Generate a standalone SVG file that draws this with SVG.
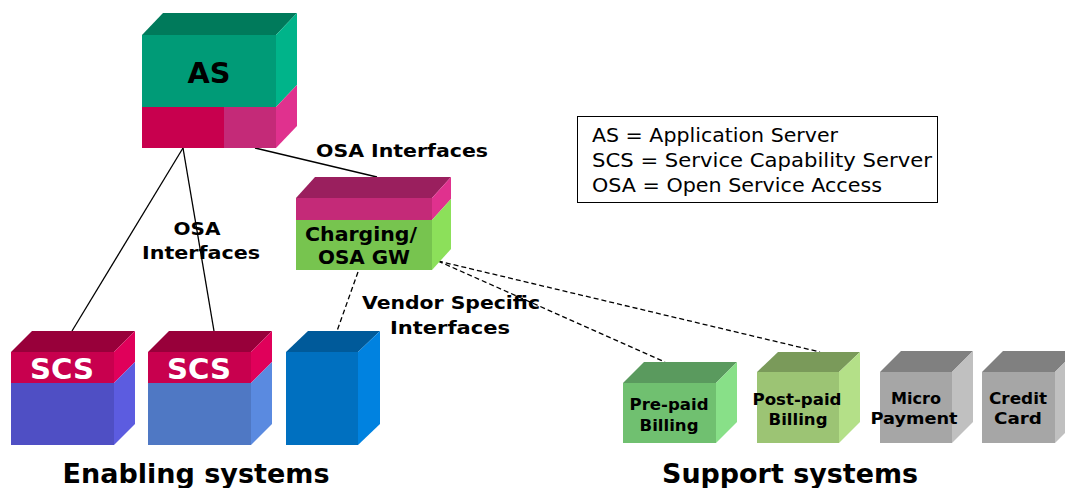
<svg xmlns="http://www.w3.org/2000/svg" width="1065" height="488" viewBox="0 0 1065 488">
  <style>
    .lbl { font-family: "DejaVu Sans", Verdana, sans-serif; font-weight: bold; fill: #000; text-anchor: middle; }
    .box-txt { font-family: "DejaVu Sans", Verdana, sans-serif; font-weight: bold; text-anchor: middle; }
    .legend { font-family: "DejaVu Sans", Verdana, sans-serif; font-size: 19px; fill: #000; }
    .solid { stroke: #000; stroke-width: 1.3; fill: none; }
    .dash { stroke: #000; stroke-width: 1.3; fill: none; stroke-dasharray: 5 3; }
  </style>

  <rect width="1065" height="488" fill="#fff"/>

  <!-- connectors -->
  <g id="connectors">
    <line class="solid" x1="183" y1="148" x2="72" y2="331"/>
    <line class="solid" x1="183" y1="148" x2="214" y2="331"/>
    <line class="solid" x1="255" y1="148" x2="377" y2="177"/>
    <line class="dash" x1="358" y1="272" x2="337" y2="331"/>
    <line class="dash" x1="438" y1="261" x2="665" y2="362"/>
    <line class="dash" x1="438" y1="261" x2="820" y2="352"/>
  </g>

  <!-- Application Server -->
  <g id="as">
    <polygon points="142,35 163,13 297,13 276,35" fill="#007A5B"/>
    <rect x="142" y="35" width="134" height="72" fill="#009B77"/>
    <polygon points="276,35 297,13 297,85 276,107" fill="#00B48A"/>
    <rect x="142" y="107" width="82" height="41" fill="#C8004E"/>
    <rect x="224" y="107" width="52" height="41" fill="#C42A78"/>
    <polygon points="276,107 297,85 297,126 276,148" fill="#E0318E"/>
    <text class="box-txt" x="209" y="83" font-size="29" fill="#000" textLength="43" lengthAdjust="spacingAndGlyphs">AS</text>
  </g>

  <!-- Charging / OSA gateway -->
  <g id="charging">
    <polygon points="296,198 315,177 451,177 432,198" fill="#9A1F5E"/>
    <rect x="296" y="198" width="136" height="22" fill="#C42A78"/>
    <polygon points="432,198 451,177 451,199 432,220" fill="#E0318E"/>
    <rect x="296" y="220" width="136" height="50" fill="#77C44F"/>
    <polygon points="432,220 451,199 451,249 432,270" fill="#8CE05A"/>
    <text class="box-txt" x="361" y="241" font-size="19" fill="#000" textLength="112" lengthAdjust="spacingAndGlyphs">Charging/</text>
    <text class="box-txt" x="364" y="264" font-size="19" fill="#000" textLength="92" lengthAdjust="spacingAndGlyphs">OSA GW</text>
  </g>

  <!-- SCS 1 -->
  <g id="scs1">
    <polygon points="11,352 32,331 135,331 114,352" fill="#98003A"/>
    <rect x="11" y="352" width="103" height="31" fill="#C8004E"/>
    <polygon points="114,352 135,331 135,362 114,383" fill="#E0005A"/>
    <rect x="11" y="383" width="103" height="62" fill="#4F4FC4"/>
    <polygon points="114,383 135,362 135,424 114,445" fill="#5C5CE0"/>
    <text class="box-txt" x="62" y="379" font-size="29" fill="#fff" textLength="64" lengthAdjust="spacingAndGlyphs">SCS</text>
  </g>

  <!-- SCS 2 -->
  <g id="scs2">
    <polygon points="148,352 169,331 272,331 251,352" fill="#98003A"/>
    <rect x="148" y="352" width="103" height="31" fill="#C8004E"/>
    <polygon points="251,352 272,331 272,362 251,383" fill="#E0005A"/>
    <rect x="148" y="383" width="103" height="62" fill="#4F78C4"/>
    <polygon points="251,383 272,362 272,424 251,445" fill="#5A8AE0"/>
    <text class="box-txt" x="199" y="379" font-size="29" fill="#fff" textLength="64" lengthAdjust="spacingAndGlyphs">SCS</text>
  </g>

  <!-- vendor specific system -->
  <g id="vendor">
    <polygon points="286,352 308,331 380,331 358,352" fill="#005A9A"/>
    <rect x="286" y="352" width="72" height="93" fill="#0070C0"/>
    <polygon points="358,352 380,331 380,424 358,445" fill="#0082E0"/>
  </g>

  <!-- Pre-paid billing -->
  <g id="prepaid">
    <polygon points="623,383 644,362 737,362 716,383" fill="#5A9A5E"/>
    <rect x="623" y="383" width="93" height="60" fill="#70C070"/>
    <polygon points="716,383 737,362 737,422 716,443" fill="#88E088"/>
    <text class="box-txt" x="669" y="410" font-size="16" fill="#000" textLength="79" lengthAdjust="spacingAndGlyphs">Pre-paid</text>
    <text class="box-txt" x="669" y="431" font-size="16" fill="#000" textLength="59" lengthAdjust="spacingAndGlyphs">Billing</text>
  </g>

  <!-- Post-paid billing -->
  <g id="postpaid">
    <polygon points="757,372 778,352 860,352 839,372" fill="#7A9A5A"/>
    <rect x="757" y="372" width="82" height="71" fill="#9CC474"/>
    <polygon points="839,372 860,352 860,422 839,443" fill="#B4E088"/>
    <text class="box-txt" x="797" y="405" font-size="16" fill="#000" textLength="89" lengthAdjust="spacingAndGlyphs">Post-paid</text>
    <text class="box-txt" x="798" y="425" font-size="16" fill="#000" textLength="59" lengthAdjust="spacingAndGlyphs">Billing</text>
  </g>

  <!-- Micro payment -->
  <g id="micro">
    <polygon points="880,372 901,351 973,351 952,372" fill="#808080"/>
    <rect x="880" y="372" width="72" height="71" fill="#A6A6A6"/>
    <polygon points="952,372 973,351 973,422 952,443" fill="#C0C0C0"/>
    <text class="box-txt" x="916" y="404" font-size="16" fill="#000" textLength="50" lengthAdjust="spacingAndGlyphs">Micro</text>
    <text class="box-txt" x="914" y="424" font-size="16" fill="#000" textLength="87" lengthAdjust="spacingAndGlyphs">Payment</text>
  </g>

  <!-- Credit card -->
  <g id="credit">
    <polygon points="982,372 1003,351 1076,351 1055,372" fill="#808080"/>
    <rect x="982" y="372" width="73" height="71" fill="#A6A6A6"/>
    <polygon points="1055,372 1076,351 1076,422 1055,443" fill="#C0C0C0"/>
    <text class="box-txt" x="1018" y="404" font-size="16" fill="#000" textLength="58" lengthAdjust="spacingAndGlyphs">Credit</text>
    <text class="box-txt" x="1018" y="424" font-size="16" fill="#000" textLength="48" lengthAdjust="spacingAndGlyphs">Card</text>
  </g>

  <!-- legend -->
  <g id="legend">
    <rect x="577.5" y="116.5" width="360" height="86" fill="#fff" stroke="#000" stroke-width="1"/>
    <text class="legend" x="592" y="142" textLength="246" lengthAdjust="spacingAndGlyphs">AS = Application Server</text>
    <text class="legend" x="592" y="167" textLength="340" lengthAdjust="spacingAndGlyphs">SCS = Service Capability Server</text>
    <text class="legend" x="592" y="192" textLength="290" lengthAdjust="spacingAndGlyphs">OSA = Open Service Access</text>
  </g>

  <!-- interface labels -->
  <g id="labels">
    <text class="lbl" x="402" y="157" font-size="18" textLength="172" lengthAdjust="spacingAndGlyphs">OSA Interfaces</text>
    <text class="lbl" x="197" y="235" font-size="18" textLength="47" lengthAdjust="spacingAndGlyphs">OSA</text>
    <text class="lbl" x="201" y="259" font-size="18" textLength="118" lengthAdjust="spacingAndGlyphs">Interfaces</text>
    <text class="lbl" x="451" y="309" font-size="18" textLength="178" lengthAdjust="spacingAndGlyphs">Vendor Specific</text>
    <text class="lbl" x="450" y="334" font-size="18" textLength="120" lengthAdjust="spacingAndGlyphs">Interfaces</text>
    <text class="lbl" x="196" y="483" font-size="26" textLength="267" lengthAdjust="spacingAndGlyphs">Enabling systems</text>
    <text class="lbl" x="790" y="483" font-size="26" textLength="256" lengthAdjust="spacingAndGlyphs">Support systems</text>
  </g>
</svg>
